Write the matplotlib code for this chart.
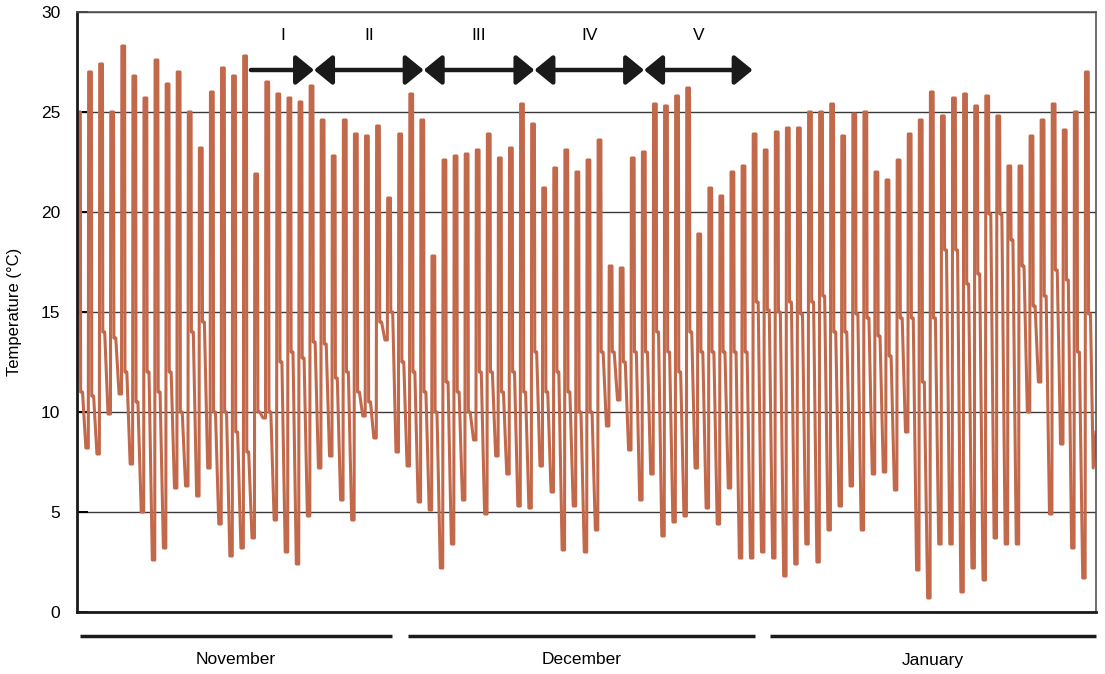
import numpy as np
import matplotlib
matplotlib.use('Agg')
import matplotlib.pyplot as plt

plt.rcParams['font.family'] = ['Liberation Sans', 'DejaVu Sans']

# daily values (one entry per day, Nov 1 .. Jan 31)
daily_high = [
    25.0, 27.0, 27.4, 25.0, 28.3, 26.8, 25.7, 27.6, 26.4, 27.0,
    25.0, 23.2, 26.0, 27.2, 26.8, 27.8, 21.9, 26.5, 25.9, 25.7,
    25.5, 26.3, 24.6, 22.8, 24.6, 23.9, 23.8,
    24.3, 20.7, 23.9, 25.9, 24.6, 17.8, 22.6, 22.8, 22.9, 23.1,
    23.9, 22.7, 23.2, 25.4, 24.4, 21.2, 22.2, 23.1, 22.0, 22.6,
    23.6, 17.3, 17.2, 22.7, 23.0, 25.4, 25.3, 25.8, 26.2, 18.9,
    21.2, 20.8, 22.0,
    22.3, 23.9, 23.1, 24.0, 24.2, 24.2, 25.0, 25.0, 25.4, 23.8,
    24.9, 25.0, 22.0, 21.6, 22.6, 23.9, 24.6, 26.0, 24.8, 25.7,
    25.9, 25.3, 25.8, 24.8, 22.3, 22.3, 23.8, 24.6, 25.4, 24.1,
    25.0, 27.0,
]
# early-morning minimum before each day's peak
daily_low = [
    11.5, 8.2, 7.9, 9.9, 10.9, 7.4, 5.0, 2.6, 3.2, 6.2,
    6.3, 5.8, 7.2, 4.4, 2.8, 3.2, 3.7, 9.7, 4.6, 3.0,
    2.4, 4.8, 7.2, 7.8, 5.6, 4.6, 9.8,
    8.7, 13.6, 8.0, 7.3, 5.5, 5.1, 2.2, 3.4, 5.6, 8.6,
    4.9, 7.8, 6.9, 5.3, 5.2, 7.3, 6.0, 3.1, 5.3, 3.0,
    4.1, 9.3, 10.6, 8.1, 5.6, 6.9, 3.8, 4.5, 4.8, 7.2,
    5.2, 4.4, 6.2,
    2.7, 2.7, 3.0, 2.7, 1.8, 2.4, 3.4, 2.5, 4.1, 5.3,
    6.3, 4.1, 6.9, 7.0, 6.1, 9.0, 2.1, 0.7, 3.4, 3.4,
    1.0, 2.2, 1.6, 3.7, 3.4, 3.4, 10.0, 11.5, 4.9, 8.4,
    3.2, 1.7,
]
# level the curve settles on after the afternoon drop
evening_temp = [
    11.0, 10.8, 14.0, 13.7, 12.0, 10.5, 12.0, 11.0, 12.0, 10.0,
    14.0, 14.5, 10.0, 10.0, 9.0, 8.0, 10.0, 10.0, 12.5, 13.0,
    12.7, 13.5, 13.4, 11.7, 12.0, 11.0, 10.5,
    14.5, 15.0, 12.5, 12.0, 11.0, 10.0, 11.5, 11.0, 10.0, 12.0,
    12.0, 11.0, 12.0, 11.0, 13.0, 11.0, 12.0, 11.0, 10.0, 10.0,
    13.0, 13.0, 12.5, 13.0, 13.0, 14.0, 13.0, 12.0, 14.0, 13.0,
    13.0, 13.0, 13.0,
    13.0, 15.5, 15.1, 15.0, 15.5, 14.9, 15.5, 15.8, 14.0, 14.0,
    14.9, 14.7, 13.8, 12.8, 14.7, 14.7, 11.5, 14.7, 18.1, 18.1,
    16.4, 16.9, 19.9, 19.9, 18.6, 17.3, 15.3, 15.8, 17.1, 16.6,
    13.0, 14.9,
]
end_temp = [7.2, 9.0]

months = ['November', 'December', 'January']
phase_labels = ['I', 'II', 'III', 'IV', 'V']
phase_edges = [15.7, 21.4, 31.3, 41.3, 51.2, 61.0]  # days since Nov 1

# build the polyline: night low, quick rise, midday plateau, drop to evening
t = []
temp = []
for d in range(len(daily_high)):
    s = d - 0.2
    t += [s, s + 0.22, s + 0.25, s + 0.5, s + 0.53, s + 0.7]
    temp += [daily_low[d], daily_low[d], daily_high[d], daily_high[d],
             evening_temp[d], evening_temp[d]]
t += [91.75, 92.0]
temp += end_temp

fig = plt.figure(figsize=(11.05, 6.74), dpi=100)
ax = fig.add_axes([77 / 1105, 1 - 612 / 674, 1019 / 1105, 600 / 674])

ax.plot(t, temp, color='#C2694B', lw=2.2)

ax.set_xlim(0, 92)
ax.set_ylim(0, 30)
ax.set_yticks(range(0, 31, 5))
ax.set_xticks([])
ax.yaxis.grid(True, color='#3a3a3a', lw=1.0)
ax.set_axisbelow(True)
ax.tick_params(axis='y', direction='in', length=8, width=1.4, pad=12,
               labelsize=12.5, color='black')
for s in ['left', 'bottom']:
    ax.spines[s].set_linewidth(2.0)
    ax.spines[s].set_color('#1a1a1a')
for s in ['top', 'right']:
    ax.spines[s].set_linewidth(1.2)
    ax.spines[s].set_color('#555555')

ax.set_ylabel('Temperature (°C)', fontsize=12)
ax.yaxis.set_label_coords(-0.054, 0.5)

# month bars under the axis
bars = [(0.003, 0.309), (0.325, 0.665), (0.680, 1.0)]
for name, (x0, x1) in zip(months, bars):
    ax.plot([x0, x1], [-0.04, -0.04], transform=ax.transAxes, clip_on=False,
            color='#1a1a1a', lw=2.5, solid_capstyle='butt')
    ax.text((x0 + x1) / 2, -0.08, name, transform=ax.transAxes,
            ha='center', va='center', fontsize=12.5)

# phase arrows
for i, lab in enumerate(phase_labels):
    style = '-|>' if i == 0 else '<|-|>'
    ax.annotate('', xy=(phase_edges[i + 1], 27.1), xytext=(phase_edges[i], 27.1),
                arrowprops=dict(arrowstyle=style + ',head_length=0.55,head_width=0.45',
                                lw=3.2, color='#1a1a1a', shrinkA=0, shrinkB=0,
                                mutation_scale=20))
    ax.text((phase_edges[i] + phase_edges[i + 1]) / 2, 28.85, lab,
            ha='center', va='center', fontsize=12.5)

fig.savefig('out.png', dpi=100)
